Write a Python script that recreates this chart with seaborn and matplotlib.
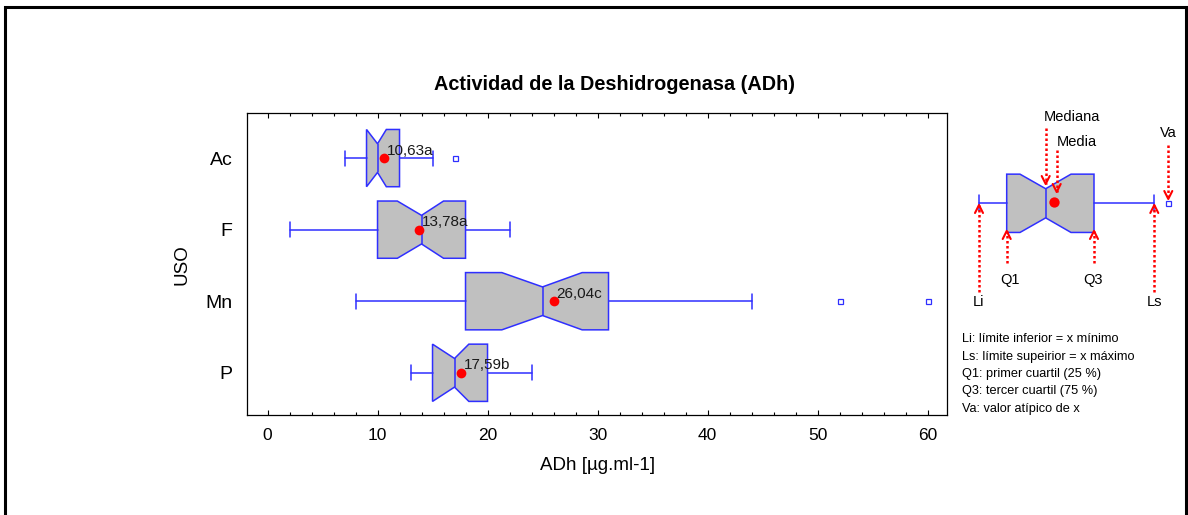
import numpy as np
import pandas as pd
import matplotlib
matplotlib.use("Agg")
import matplotlib.pyplot as plt
from matplotlib.patches import Rectangle
import seaborn as sns

# Resumen de ADh por uso del suelo
uso = ["Ac", "F", "Mn", "P"]
limite_inf = [7, 2, 8, 13]
q1 = [9, 10, 18, 15]
mediana = [10, 14, 25, 17]
q3 = [12, 18, 31, 20]
limite_sup = [15, 22, 44, 24]
atipicos = [[17], [], [52, 60], []]
ic_inf = [9.0, 11.8, 21.3, 15.0]
ic_sup = [10.8, 16.0, 28.6, 18.3]
media = [10.63, 13.78, 26.04, 17.59]
letras = ["a", "a", "c", "b"]
x_ticks = [0, 10, 20, 30, 40, 50, 60]

leyenda = [
    "Li: límite inferior = x mínimo",
    "Ls: límite supeirior = x máximo",
    "Q1: primer cuartil (25 %)",
    "Q3: tercer cuartil (75 %)",
    "Va: valor atípico de x",
]

W, H = 1188, 515
AZUL = "#2f2fff"
GRIS = "#c0c0c0"
ROJO = "#ff0000"

sns.set_theme(style="ticks")
plt.rcParams["font.family"] = ["Liberation Sans", "DejaVu Sans"]
plt.rcParams.update({"text.color": "black", "axes.labelcolor": "black",
                     "xtick.color": "black", "ytick.color": "black",
                     "axes.edgecolor": "black"})

fig = plt.figure(figsize=(W / 100, H / 100), dpi=100)


def px_rect(x0, y0, x1, y1):
    return [x0 / W, 1 - y1 / H, (x1 - x0) / W, (y1 - y0) / H]


box_style = dict(
    patch_artist=True,
    shownotches=True,
    orientation="horizontal",
    manage_ticks=False,
    boxprops=dict(facecolor=GRIS, edgecolor=AZUL, linewidth=1.1),
    whiskerprops=dict(color=AZUL, linewidth=1.1),
    capprops=dict(color=AZUL, linewidth=1.1),
    medianprops=dict(color=AZUL, linewidth=1.1),
    flierprops=dict(marker="s", markersize=3.6, markerfacecolor="none",
                    markeredgecolor=AZUL, markeredgewidth=0.9, linestyle="none"),
    zorder=3,
)

# ---- main panel ----
ax = fig.add_axes(px_rect(247.3, 113.3, 947.3, 415))

df = pd.DataFrame({"USO": uso, "Media": media})
sns.stripplot(data=df, x="Media", y="USO", order=uso, jitter=False,
              color=ROJO, size=7, linewidth=0, zorder=6, ax=ax)

stats = []
for i in range(len(uso)):
    stats.append(dict(label=uso[i], whislo=limite_inf[i], q1=q1[i], med=mediana[i],
                      q3=q3[i], whishi=limite_sup[i], fliers=np.array(atipicos[i], float),
                      cilo=ic_inf[i], cihi=ic_sup[i]))
ax.bxp(stats, positions=range(len(uso)), widths=0.8, capwidths=0.21, **box_style)

for i, (m, l) in enumerate(zip(media, letras)):
    ax.annotate(f"{m:.2f}".replace(".", ",") + l, xy=(m, i), xytext=(1.8, 5.4),
                textcoords="offset points", ha="left", va="center",
                fontsize=11, color="#1a1a1a", zorder=7)

ax.set_xlim(-1.84, 61.8)
ax.set_ylim(3.59, -0.626)
ax.set_xticks(x_ticks)
ax.set_xticks(np.arange(0, 61, 2), minor=True)
ax.set_yticks(range(len(uso)))
ax.set_yticklabels(uso)
ax.tick_params(axis="x", which="both", direction="in", top=True, bottom=True,
               labelsize=12.5, pad=9, width=0.8, color="black")
ax.tick_params(axis="x", which="major", length=3.6)
ax.tick_params(axis="x", which="minor", length=2.2)
ax.tick_params(axis="y", length=0, labelsize=14, pad=10.5)
for s in ax.spines.values():
    s.set_visible(True)
    s.set_color("black")
    s.set_linewidth(0.9)

ax.set_xlabel("ADh [µg.ml-1]", fontsize=13.5)
ax.xaxis.label.set_va("center")
ax.xaxis.set_label_coords(0.5, (415 - 465) / 301.7)
ax.set_ylabel("USO", fontsize=13.5)
ax.yaxis.label.set_va("center")
ax.yaxis.set_label_coords((182 - 247.3) / 700, 0.5)

fig.text(615 / W, 1 - 85 / H, "Actividad de la Deshidrogenasa (ADh)",
         ha="center", va="center", fontsize=14.3, fontweight="bold")

# ---- explanatory schematic ----
lg = fig.add_axes(px_rect(952, 95, 1188, 425))
lg.set_xlim(952, 1188)
lg.set_ylim(425, 95)
lg.axis("off")

ejemplo = [dict(whislo=979, q1=1006.7, med=1045.7, q3=1094, whishi=1154.3,
                fliers=np.array([1168.3]), cilo=1020, cihi=1071)]
lg.bxp(ejemplo, positions=[203.3], widths=58.3, capwidths=16, **box_style)
lg.scatter([1054.3], [201.7], s=55, color=ROJO, linewidths=0, zorder=6)


def flecha(x, y_cola, y_punta):
    lg.plot([x, x], [y_cola, y_punta], color=ROJO, lw=1.8,
            linestyle=(0, (1, 1)), zorder=8, solid_capstyle="butt")
    d = 8 if y_cola > y_punta else -8
    lg.plot([x - 4, x, x + 4], [y_punta + d, y_punta, y_punta + d],
            color=ROJO, lw=1.5, zorder=8)


flecha(979, 292, 205)
flecha(1006.7, 263, 231)
flecha(1094, 263, 231)
flecha(1154.3, 292, 205)
flecha(1045.7, 128, 184)
flecha(1056.7, 150, 192)
flecha(1168.3, 145, 199)

etq = dict(ha="center", va="center", fontsize=10.5)
lg.text(979, 302, "Li", **etq)
lg.text(1010, 280, "Q1", **etq)
lg.text(1093, 280, "Q3", **etq)
lg.text(1155, 302, "Ls", **etq)
lg.text(1071.7, 116.7, "Mediana", **etq)
lg.text(1076.7, 141.7, "Media", **etq)
lg.text(1168.3, 133, "Va", **etq)

for k, linea in enumerate(leyenda):
    lg.text(961.7, 339.3 + k * 17.35, linea, ha="left", va="center",
            fontsize=9.2)

# outer frame
fig.add_artist(Rectangle((5 / W, -0.05), (1186 - 5) / W, (1 - 6.5 / H) + 0.05,
                         transform=fig.transFigure, fill=False,
                         edgecolor="black", linewidth=2.2))

fig.savefig("out.png", dpi=100)
